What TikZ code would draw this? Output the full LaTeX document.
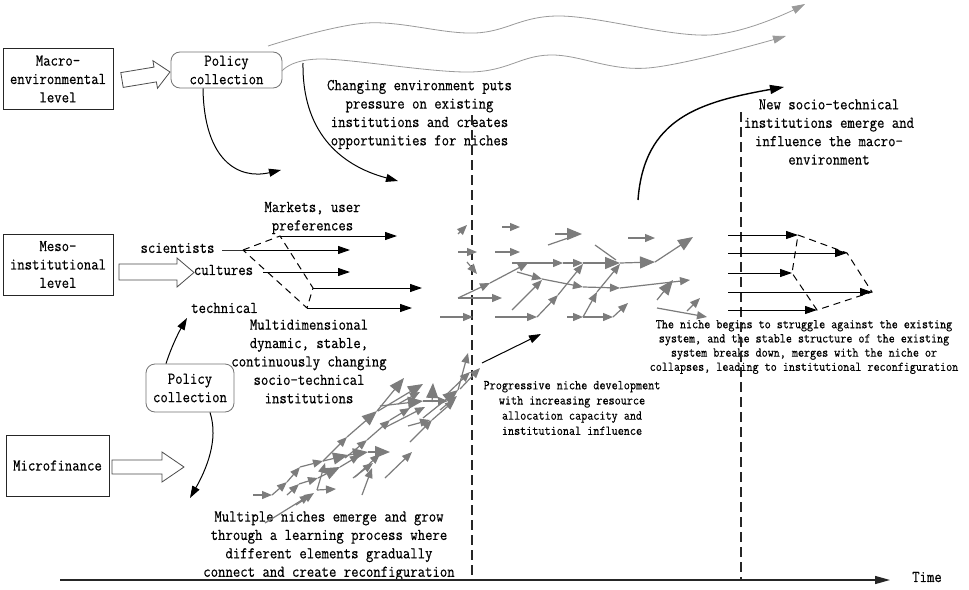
\documentclass[tikz,border=0pt]{standalone}
\usepackage{fontspec}
\setmonofont{Latin Modern Mono}[FakeStretch=0.87,FakeBold=0.4]
\usetikzlibrary{arrows.meta,calc}
\newcommand\LgTxt{\fontsize{16.5pt}{18.4pt}\ttfamily}
\newcommand\SmTxt{\fontsize{13.6pt}{15.2pt}\ttfamily}
\newcommand\SmTxtB{\fontsize{13.5pt}{14.2pt}\ttfamily}
\definecolor{garc}{HTML}{7C7C7C}
\definecolor{wavec}{HTML}{9A9A9A}
\begin{document}
\begin{tikzpicture}[x=1pt,y=-1pt,
  lvlbox/.style={draw=black!85,line width=0.9pt,minimum width=110pt,minimum height=61pt,inner sep=0pt,align=center,font=\LgTxt},
  polbox/.style={draw=black!55,line width=0.8pt,rounded corners=9pt,inner sep=0pt,align=center,font=\LgTxt},
  txtL/.style={inner sep=0pt,align=center,font=\LgTxt},
  txtS/.style={inner sep=0pt,align=center,font=\SmTxt},
  hollow/.style={draw=black!70,line width=0.8pt,fill=white,line join=miter},
  blk/.style={draw=black,line width=1pt,-{Triangle[length=12pt,width=8pt]}},
  blkT/.style={draw=black,line width=1.4pt,-{Triangle[length=14pt,width=9pt]}},
  dsh/.style={draw=black,line width=1pt,dash pattern=on 7pt off 5pt},
  vdsh/.style={draw=black!85,line width=1.2pt,dash pattern=on 10pt off 5pt},
  gar/.style={draw=garc,line width=1.2pt,-{Triangle[length=10pt,width=8pt]},garc},
  bgar/.style={draw=garc,line width=1.2pt,-{Triangle[length=15pt,width=12pt]},garc},
  gln/.style={draw=garc,line width=1.2pt},
  wave/.style={draw=wavec,line width=0.8pt,-{Triangle[length=13pt,width=8pt]}}
]
\fill[white] (0,0) rectangle (969,589);
\useasboundingbox (0,0) rectangle (969,589);

% ---------- boxes ----------
\node[lvlbox] (macro) at (58,79) {Macro-\\environmental\\level};
\node[lvlbox] (meso) at (58,264.5) {Meso-\\institutional\\level};
\node[lvlbox,minimum width=103pt] (micro) at (57.5,465.5) {Microfinance};
\node[polbox,minimum width=111pt,minimum height=36pt] (pol1) at (226.5,70) {Policy\\collection};
\node[polbox,minimum width=88pt,minimum height=48pt] (pol2) at (190,388) {Policy\\collection};

% ---------- hollow arrows ----------
\draw[hollow] (123.2,87.4) -- (120.8,72.6) -- (154.0,67.1) -- (152.9,60.7) -- (170,72)
  -- (157.5,88.3) -- (156.4,81.9) -- cycle;
\draw[hollow] (119,264) -- (177,264) -- (177,258) -- (194,272.5) -- (177,287) -- (177,280) -- (119,280) -- cycle;
\draw[hollow] (112,460) -- (162,460) -- (162,452) -- (184,467) -- (162,482) -- (162,474) -- (112,474) -- cycle;

% ---------- wavy environment lines ----------
\draw[wave] plot[smooth,tension=0.6] coordinates {(268,46) (367,23) (475,33) (560,16) (710,35) (805,4)};
\draw[wave] (pol1.east) plot[smooth,tension=0.6] coordinates {(282,71) (322,59) (470,72) (550,55) (648,68) (786,36)};

% ---------- texts ----------
\node[txtL] (t1) at (419.5,114.5) {Changing environment puts\\pressure on existing\\institutions and creates\\opportunities for niches};
\node[txtL] (t2) at (829,132) {New socio-technical\\institutions emerge and\\influence the macro-\\environment};
\node[txtL] (t3) at (312.5,218) {Markets, user\\preferences};
\node[txtL] (sci) at (177.5,248) {scientists};
\node[txtL] (cul) at (223.5,270) {cultures};
\node[txtL] (tec) at (224.5,308) {technical};
\node[txtL] (t4) at (309,361.5) {Multidimensional\\dynamic, stable,\\continuously changing\\socio-technical\\institutions};
\node[txtL] (t5) at (329,546) {Multiple niches emerge and grow\\through a learning process where\\different elements gradually\\connect and create reconfiguration};
\node[txtS] (t6) at (572,408) {Progressive niche development\\with increasing resource\\allocation capacity and\\institutional influence};
\node[inner sep=0pt,align=center,font=\SmTxtB] (t7) at (804,347) {The niche begins to struggle against the existing\\system, and the stable structure of the existing\\system breaks down, merges with the niche or\\collapses, leading to institutional reconfiguration};
\node[txtL] (time) at (927,577) {Time};

% ---------- vertical dashed lines and time axis ----------
\coordinate (d1t) at (472,115); \coordinate (d1b) at (472,580);
\coordinate (d2t) at (741,112); \coordinate (d2b) at (741,580);
\draw[vdsh] (d1t) -- (d1b);
\draw[vdsh] (d2t) -- (d2b);
\coordinate (ax0) at (60,580); \coordinate (ax1) at (890,580);
\draw[draw=black!85,line width=1.3pt,-{Triangle[length=15pt,width=8pt]}] (ax0) -- (ax1);

% ---------- black curved arrows ----------
\coordinate (c1e) at (281,170);
\draw[blk] ([xshift=-23.5pt]pol1.south) .. controls (204,160) and (238,180) .. (c1e);
\coordinate (c2s) at (303,63); \coordinate (c2e) at (398,181);
\draw[blk] (c2s) .. controls (302,130) and (338,165) .. (c2e);
\coordinate (c3s) at (638,200); \coordinate (c3e) at (784,87);
\draw[blkT] (c3s) .. controls (644,118) and (700,102) .. (c3e);
\coordinate (tecp) at (187,318);
\draw[blk] ([xshift=-24pt]pol2.north) .. controls (172,345) and (180,330) .. (tecp);
\coordinate (c5e) at (190,498);
\draw[blk] ([xshift=20pt]pol2.south) .. controls (219,440) and (206,470) .. (c5e);
\coordinate (pn0) at (482,363); \coordinate (pn1) at (541,334);
\draw[blk] (pn0) -- (pn1);

% ---------- meso institutional structure ----------
\coordinate (s0) at (222,250);
\coordinate (s1) at (243,250);
\coordinate (m1) at (280,236);
\coordinate (m2) at (313,288);
\coordinate (m3) at (307,308);
\coordinate (cu) at (263,272);
\draw[draw=black!80,line width=1pt] (s0) -- (s1);
\draw[dsh] (s1) -- (m1) -- (m2) -- (m3) -- cycle;
\draw[blk] (m1) -- (397,236);
\draw[blk] (s1) -- (350,250);
\draw[blk] (cu) -- (350,272);
\draw[blk] (m2) -- (422,288);
\draw[blk] (m3) -- (412,308);

% ---------- reconfigured regime (right) ----------
\coordinate (r1) at (798,235);
\coordinate (r2) at (847,253);
\coordinate (r3) at (792,273);
\coordinate (r4) at (872,292);
\coordinate (r5) at (817,310);
\draw[blk] (728,235) -- (r1);
\draw[blk] (728,253) -- (r2);
\draw[blk] (728,273) -- (r3);
\draw[blk] (728,292) -- (r4);
\draw[blk] (728,310) -- (r5);
\draw[dsh] (r1) -- (r2) -- (r4) -- (r5) -- (r3) -- cycle;

% ---------- niche arrows: upper cluster ----------
\draw[gar] (458,234) -- (467,225);
\draw[gar] (502,227) -- (520,227);
\draw[bgar] (555,234) -- (582,234);
\draw[gln] (548,245) -- (574,236);
\draw[gar] (628,238) -- (655,238);
\draw[gar] (458,252) -- (477,252);
\draw[gar] (495,252) -- (520,252);
\draw[gar] (467,262) -- (477,274);
\draw[gar] (512,263) -- (563,263);
\draw[gar] (563,263) -- (583,263);
\draw[bgar] (583,263) -- (620,263);
\draw[gln] (595,245) -- (616,260);
\draw[bgar] (620,263) -- (655,262);
\draw[bgar] (655,262) -- (693,237);
\draw[gar] (458,298) -- (490,283);
\draw[gar] (490,283) -- (528,263);
\draw[gar] (458,298) -- (502,298);
\draw[gar] (517,272) -- (542,279);
\draw[gar] (542,279) -- (583,287);
\draw[gar] (583,287) -- (620,288);
\draw[gar] (620,288) -- (690,280);
\draw[bgar] (657,300) -- (673,280);
\draw[gar] (512,310) -- (542,280);
\draw[gar] (537,317) -- (558,295);
\draw[gar] (558,295) -- (583,264);
\draw[gar] (440,317) -- (473,317);
\draw[gar] (495,317) -- (537,317);
\draw[gar] (567,317) -- (583,317);
\draw[gar] (583,317) -- (597,292);
\draw[gar] (597,292) -- (620,264);
\draw[gar] (583,317) -- (613,317);
\draw[gar] (613,317) -- (628,303);
\draw[gar] (657,308) -- (707,317);
\draw[gar] (687,311) -- (700,298);

% ---------- niche arrows: lower cluster ----------
\draw[gar] (253,495) -- (272,495);
\draw[gar] (272,495) -- (287,482);
\draw[gar] (287,482) -- (300,467);
\draw[gar] (300,467) -- (323,461);
\draw[gar] (323,461) -- (347,437);
\draw[bgar] (347,437) -- (377,411);
\draw[bgar] (377,411) -- (404,378);
\draw[bgar] (323,461) -- (348,455);
\draw[bgar] (348,455) -- (368,452);
\draw[bgar] (368,452) -- (390,452);
\draw[gar] (287,495) -- (299,484);
\draw[gar] (299,484) -- (318,478);
\draw[bgar] (318,478) -- (340,467);
\draw[gar] (340,467) -- (360,455);
\draw[gar] (265,523) -- (310,495);
\draw[gar] (296,505) -- (314,493);
\draw[gar] (317,490) -- (336,489);
\draw[gar] (317,490) -- (325,463);
\draw[gar] (362,495) -- (372,468);
\draw[gar] (353,478) -- (373,463);
\draw[gar] (355,477) -- (380,454);
\draw[gar] (385,478) -- (412,452);
\draw[gar] (345,458) -- (367,440);
\draw[gar] (367,440) -- (390,420);
\draw[gar] (390,420) -- (410,408);
\draw[bgar] (378,411) -- (423,384);
\draw[bgar] (380,406) -- (423,401);
\draw[gar] (423,401) -- (448,401);
\draw[bgar] (432,402) -- (433,383);
\draw[bgar] (423,418) -- (458,390);
\draw[gar] (384,428) -- (425,407);
\draw[gar] (408,426) -- (430,420);
\draw[gar] (410,442) -- (432,420);
\draw[gar] (432,420) -- (455,400);
\draw[gar] (440,410) -- (457,396);
\draw[gar] (458,390) -- (468,353);
\draw[gar] (460,389) -- (480,368);
\draw[gar] (398,404) -- (420,392);
\draw[gar] (446,395) -- (470,372);
\end{tikzpicture}
\end{document}
